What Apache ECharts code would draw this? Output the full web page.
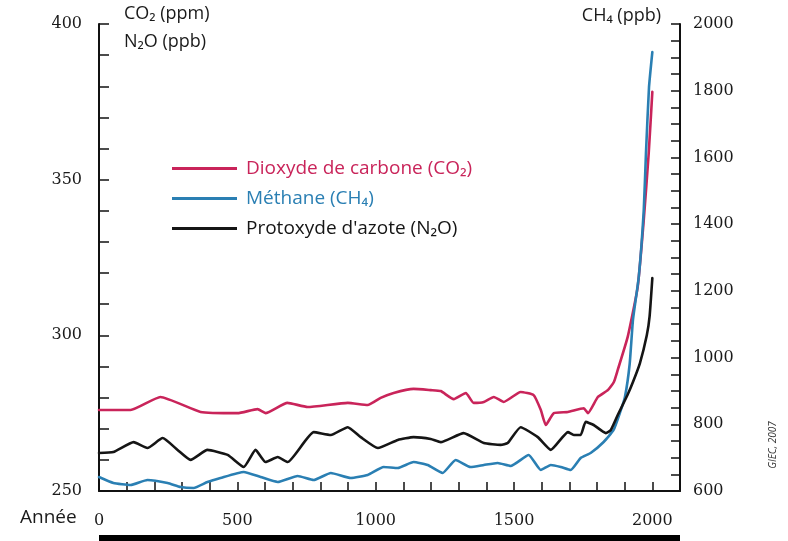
<!DOCTYPE html>
<html>
<head>
<meta charset="utf-8">
<script src="https://cdn.jsdelivr.net/npm/echarts@6/dist/echarts.min.js"></script>
<style>
  html, body { margin: 0; padding: 0; background: #fff; }
  #chart { width: 788px; height: 541px; }
</style>
</head>
<body>
<div id="chart"></div>
<script>
// Greenhouse gas concentrations over the last two millennia
const co2Years = [0,114,222,367,501,573,602,681,754,899,971,1018,1065,1137,1199,1235,1282,1326,1354,1391,1427,1463,1524,1571,1597,1615,1644,1695,1752,1767,1803,1839,1861,1875,1911,1947,1969,1987,2000];
const co2Ppm = [276.0,276.0,280.2,275.4,275.0,276.3,275.0,278.3,277.0,278.3,277.6,279.9,281.5,282.8,282.4,282.1,279.5,281.5,278.3,278.6,280.2,278.6,281.8,280.8,276.0,271.2,275.0,275.4,276.6,275.0,280.2,282.4,285.0,288.9,299.5,315.5,337.0,358.6,378.2];

const ch4Years = [0,52,114,175,248,295,342,392,439,523,584,646,718,776,838,910,971,1029,1080,1137,1188,1242,1289,1343,1391,1441,1488,1553,1597,1633,1669,1705,1741,1777,1824,1860,1884,1901,1918,1930,1951,1969,1977,1988,2000];
const ch4Ppb = [642,624,618,633,624,612,609,627,639,657,642,627,645,633,654,639,648,672,669,687,678,654,693,672,678,684,675,708,663,678,672,663,699,714,747,783,837,882,980,1113,1242,1442,1613,1811,1916];

const n2oYears = [0,52,125,175,230,284,331,392,465,523,566,602,646,682,776,838,899,946,1008,1080,1137,1199,1235,1318,1391,1452,1477,1524,1586,1633,1695,1716,1741,1759,1788,1832,1850,1875,1911,1930,1955,1980,1990,2000];
const n2oPpb = [262.2,262.5,265.7,263.8,267.0,263.2,260.0,263.2,261.6,257.7,263.2,259.3,260.9,259.3,268.9,268.0,270.5,267.3,263.8,266.4,267.3,266.7,265.7,268.6,265.4,264.8,265.4,270.5,267.3,263.2,268.9,268.0,268.0,272.2,271.2,268.6,269.6,274.4,281,285,291,300,306,318.4];

const seriesNames = ['Dioxyde de carbone (CO₂)', 'Méthane (CH₄)', "Protoxyde d'azote (N₂O)"];
const seriesColors = ['#c9245a', '#2a7fb3', '#151515'];

const leftLabelEvery = 50;
const rightLabelEvery = 200;
const yearLabelEvery = 500;

function pairs(xs, ys) { return xs.map((x, i) => [x, ys[i]]); }

const chart = echarts.init(document.getElementById('chart'), null, { renderer: 'canvas' });

const digitFont = '"DejaVu Serif", "Liberation Serif", serif';
const textFont = '"Open Sans", "Noto Sans", sans-serif';

function lineSeries(i, axis, xs, ys) {
  return {
    name: seriesNames[i], type: 'line', yAxisIndex: axis,
    data: pairs(xs, ys),
    showSymbol: false, smooth: 0.15,
    lineStyle: { color: seriesColors[i], width: 2.6, join: 'round', cap: 'round' },
    itemStyle: { color: seriesColors[i] }
  };
}

const option = {
  animation: false,
  backgroundColor: '#ffffff',
  grid: { left: 99, right: 108, top: 24, bottom: 50, containLabel: false },
  legend: {
    orient: 'vertical',
    left: 167,
    top: 154,
    icon: 'rect',
    itemWidth: 65,
    itemHeight: 3,
    itemGap: 11,
    textStyle: { fontFamily: textFont, fontSize: 19, padding: [0, 0, 0, 4] },
    data: seriesNames.map((n, i) => ({ name: n, textStyle: { color: seriesColors[i] } }))
  },
  xAxis: {
    type: 'value',
    min: 0,
    max: 2100,
    interval: 100,
    axisLine: { show: true, onZero: false, lineStyle: { color: '#111', width: 2 } },
    axisTick: { show: true, inside: true, length: 9, lineStyle: { color: '#111', width: 1.5 } },
    splitLine: { show: false },
    axisLabel: {
      margin: 22,
      color: '#1a1a1a',
      fontFamily: digitFont,
      fontSize: 16,
      formatter: v => (v % yearLabelEvery === 0 ? String(v) : '')
    }
  },
  yAxis: [
    {
      type: 'value',
      position: 'left',
      min: 250,
      max: 400,
      interval: 10,
      axisLine: { show: true, lineStyle: { color: '#111', width: 2 } },
      axisTick: { show: true, inside: true, length: 10, lineStyle: { color: '#111', width: 1.5 } },
      splitLine: { show: false },
      axisLabel: {
        margin: 17,
        color: '#1a1a1a',
        fontFamily: digitFont,
        fontSize: 16,
        formatter: v => (v % leftLabelEvery === 0 ? String(v) : '')
      }
    },
    {
      type: 'value',
      position: 'right',
      min: 600,
      max: 2000,
      interval: 50,
      axisLine: { show: true, lineStyle: { color: '#111', width: 2 } },
      axisTick: { show: true, inside: true, length: 9, lineStyle: { color: '#111', width: 1.5 } },
      splitLine: { show: false },
      axisLabel: {
        margin: 13,
        color: '#1a1a1a',
        fontFamily: digitFont,
        fontSize: 16,
        formatter: v => (v % rightLabelEvery === 0 ? String(v) : '')
      }
    }
  ],
  series: [
    lineSeries(0, 0, co2Years, co2Ppm),
    lineSeries(1, 1, ch4Years, ch4Ppb),
    lineSeries(2, 0, n2oYears, n2oPpb)
  ],
  graphic: [
    { type: 'text', left: 124, top: 5, style: { text: 'CO₂ (ppm)', font: '18px ' + textFont, fill: '#1a1a1a' } },
    { type: 'text', left: 124, top: 33, style: { text: 'N₂O (ppb)', font: '18px ' + textFont, fill: '#1a1a1a' } },
    { type: 'text', right: 127, top: 7, style: { text: 'CH₄ (ppb)', font: '18px ' + textFont, fill: '#1a1a1a' } },
    { type: 'text', left: 20, top: 508, style: { text: 'Année', font: '19px ' + textFont, fill: '#1a1a1a' } },
    { type: 'text', x: 773, y: 445, rotation: Math.PI / 2,
      style: { text: 'GIEC, 2007', font: 'italic 10px ' + textFont, fill: '#333', textAlign: 'center', textVerticalAlign: 'middle' } },
    { type: 'rect', shape: { x: 99, y: 535, width: 581, height: 6 }, style: { fill: '#000' } }
  ]
};

chart.setOption(option);
</script>
</body>
</html>
